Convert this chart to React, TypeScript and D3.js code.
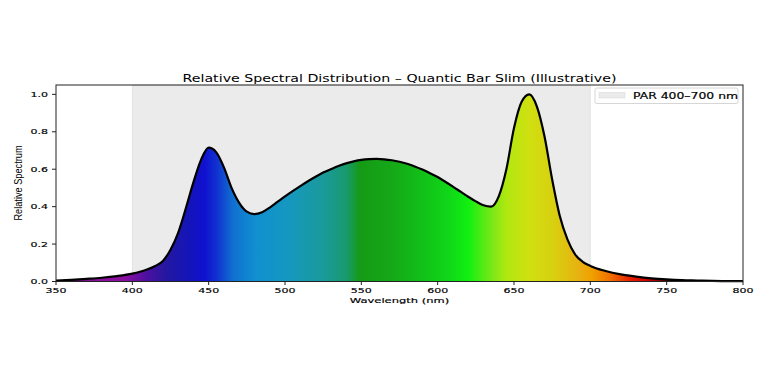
import * as d3 from "d3"

// spectrum (nm, relative)
const wavelengths = [
  350, 360, 370, 380, 390, 400, 405, 410, 415, 420, 425, 430, 435, 440, 445, 450, 455, 460,
  465, 470, 475, 480, 485, 490, 495, 500, 505, 510, 515, 520, 525, 530, 535, 540, 545, 550,
  555, 560, 565, 570, 575, 580, 585, 590, 595, 600, 605, 610, 615, 620, 625, 630, 635, 640,
  645, 650, 655, 660, 665, 670, 675, 680, 685, 690, 695, 700, 710, 720, 730, 740, 750, 760,
  770, 780, 790, 800,
]
const intensity = [
  0.005, 0.009, 0.014, 0.02, 0.029, 0.042, 0.052, 0.065, 0.083, 0.11, 0.17, 0.26, 0.39, 0.53,
  0.65, 0.715, 0.69, 0.61, 0.5, 0.42, 0.373, 0.36, 0.37, 0.395, 0.425, 0.455, 0.483, 0.51,
  0.536, 0.56, 0.582, 0.6, 0.617, 0.631, 0.642, 0.65, 0.654, 0.655, 0.653, 0.648, 0.64, 0.629,
  0.615, 0.598, 0.579, 0.558, 0.533, 0.507, 0.48, 0.453, 0.428, 0.407, 0.4, 0.455, 0.6, 0.82,
  0.96, 1.0, 0.935, 0.775, 0.545, 0.35, 0.225, 0.145, 0.105, 0.083, 0.056, 0.038, 0.026, 0.017,
  0.011, 0.007, 0.005, 0.003, 0.002, 0.0015,
]

const xTicks = [350, 400, 450, 500, 550, 600, 650, 700, 750, 800]
const yTicks = [0, 0.2, 0.4, 0.6, 0.8, 1.0]
const parBand = [400, 700]

// wavelength -> colour stops of the fill gradient
const stopWavelengths = [
  350, 380, 395, 410, 422, 437, 447, 455, 466, 481, 502, 525, 540, 549, 570, 590, 608, 620,
  634, 645, 660, 676, 693, 701, 713, 726, 737, 746, 755, 800,
]
const stopColors = [
  "#6a0a7a", "#9010a0", "#8a10a0", "#4a10a0", "#2418a0", "#1414b8", "#1010d0", "#1030d0",
  "#1070d0", "#1090d0", "#1598c0", "#1a9a9a", "#189a70", "#159a15", "#15a818", "#12c018",
  "#10d818", "#10f010", "#70e818", "#b0e810", "#d0e010", "#d8d010", "#e8b010", "#f0a000",
  "#f07000", "#e82000", "#d00000", "#800000", "#200000", "#000000",
]

const W = 768
const H = 384
const plot = { left: 56, right: 743, top: 85, bottom: 281.5 }
const squash = 0.66

// text in the reference looks squashed vertically
function Squashed({ x, y, anchor = "middle", size = 11, children }: any) {
  return (
    <g transform={`translate(${x},${y}) scale(1,${squash})`}>
      <text
        textAnchor={anchor}
        fontFamily="DejaVu Sans"
        fontSize={size}
        fill="#000"
        stroke="#000"
        strokeWidth={0.25}
      >
        {children}
      </text>
    </g>
  )
}

export default function App() {
  const x = d3.scaleLinear().domain([350, 800]).range([plot.left, plot.right])
  const y = d3.scaleLinear().domain([0, 1.05]).range([plot.bottom, plot.top])

  const points: [number, number][] = wavelengths.map((w, i) => [w, intensity[i]])

  const area = d3
    .area<[number, number]>()
    .x((d) => x(d[0]))
    .y0(y(0))
    .y1((d) => y(d[1]))
    .curve(d3.curveMonotoneX)

  const line = d3
    .line<[number, number]>()
    .x((d) => x(d[0]))
    .y((d) => y(d[1]))
    .curve(d3.curveMonotoneX)

  const [w0, w1] = x.domain()

  return (
    <svg
      width={W}
      height={H}
      style={{ position: "absolute", left: 0, top: 0, background: "#fff" }}
    >
      <defs>
        <linearGradient
          id="spectrum"
          gradientUnits="userSpaceOnUse"
          x1={x(w0)}
          x2={x(w1)}
          y1={0}
          y2={0}
        >
          {stopWavelengths.map((w, i) => (
            <stop key={w} offset={(w - w0) / (w1 - w0)} stopColor={stopColors[i]} />
          ))}
        </linearGradient>
      </defs>

      {/* PAR shading */}
      <rect
        x={x(parBand[0])}
        y={plot.top}
        width={x(parBand[1]) - x(parBand[0])}
        height={plot.bottom - plot.top}
        fill="#d3d3d3"
        fillOpacity={0.45}
        stroke="#d3d3d3"
        strokeOpacity={0.45}
      />

      <path d={area(points) || ""} fill="url(#spectrum)" />
      <path
        d={line(points) || ""}
        fill="none"
        stroke="#000"
        strokeWidth={2.2}
        strokeLinejoin="round"
      />

      {/* frame */}
      <rect
        x={plot.left}
        y={plot.top}
        width={plot.right - plot.left}
        height={plot.bottom - plot.top}
        fill="none"
        stroke="#222"
        strokeWidth={1}
      />

      {/* x axis */}
      {xTicks.map((t) => (
        <g key={t}>
          <line x1={x(t)} x2={x(t)} y1={plot.bottom} y2={plot.bottom + 3.5} stroke="#222" />
          <Squashed x={x(t)} y={293.3}>
            {t}
          </Squashed>
        </g>
      ))}

      {/* y axis */}
      {yTicks.map((t) => (
        <g key={t}>
          <line x1={plot.left - 4} x2={plot.left} y1={y(t)} y2={y(t)} stroke="#222" />
          <Squashed x={plot.left - 8} y={y(t) + 2.5} anchor="end">
            {t.toFixed(1)}
          </Squashed>
        </g>
      ))}

      <Squashed x={(plot.left + plot.right) / 2} y={302.5} size={11.5}>
        Wavelength (nm)
      </Squashed>

      <g transform="translate(22,183) rotate(-90) scale(0.8,1)">
        <text textAnchor="middle" fontFamily="Liberation Sans" fontSize={11.5} fill="#000">
          Relative Spectrum
        </text>
      </g>

      <text
        x={(plot.left + plot.right) / 2}
        y={82}
        textAnchor="middle"
        fontFamily="DejaVu Sans"
        fontSize={11.3}
        textLength={434}
        lengthAdjust="spacingAndGlyphs"
        fill="#000"
      >
        Relative Spectral Distribution – Quantic Bar Slim (Illustrative)
      </text>

      {/* legend */}
      <rect
        x={595}
        y={88}
        width={143}
        height={15.5}
        rx={2}
        fill="#fff"
        fillOpacity={0.8}
        stroke="#d6d6d6"
      />
      <rect
        x={599}
        y={92.5}
        width={26}
        height={5.5}
        fill="#d3d3d3"
        fillOpacity={0.45}
        stroke="#d3d3d3"
        strokeOpacity={0.45}
      />
      <Squashed x={633} y={99} anchor="start" size={12.4}>
        PAR 400–700 nm
      </Squashed>
    </svg>
  )
}
